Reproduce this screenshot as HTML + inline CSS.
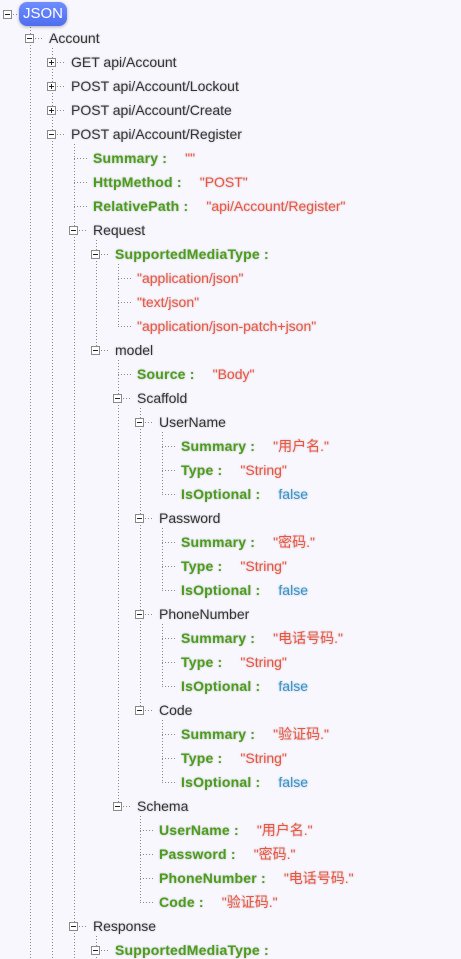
<!DOCTYPE html>
<html><head><meta charset="utf-8"><style>
body{margin:0;width:461px;height:959px;overflow:hidden;background:#f7f7fd;font-family:"Liberation Sans","Noto Sans CJK SC",sans-serif;font-size:14px;position:relative}
.r{position:absolute;height:18px;line-height:18px;white-space:nowrap;color:#333;text-shadow:0 0 2px rgba(0,0,0,.25)}
.k{color:#4a9e18;font-weight:bold;letter-spacing:0.2px}
.s{color:#f5503a;margin-left:18px}
.s0{color:#f5503a}
.f{color:#2b94d4;margin-left:18px}
.b{position:absolute;width:9px;height:9px;border:1px solid #8a8a8a;background:#fff;box-sizing:border-box}
.b:before{content:"";position:absolute;left:1px;right:1px;top:3px;height:1px;background:#222}
.p:after{content:"";position:absolute;top:1px;bottom:1px;left:3px;width:1px;background:#222}
.pill{position:absolute;left:19px;top:2px;width:48px;height:24px;border-radius:8px;background:linear-gradient(#6f8cff,#4e6ef0);color:#fff;text-align:center;line-height:24px;font-size:15px;box-shadow:0 1px 3px rgba(0,0,0,.3)}
</style></head><body>
<svg width="461" height="959" style="position:absolute;left:0;top:0" stroke="#888" stroke-width="1" stroke-dasharray="1,2" fill="none" shape-rendering="crispEdges">
<path d="M30.5 24V959M52.5 48V959M74.5 144V959M96.5 240V350M118.5 264V326M118.5 360V806M140.5 408V710M162.5 432V494M162.5 528V590M162.5 624V686M162.5 720V782M140.5 816V902M96.5 936V959"/>
<path d="M13 14.5H19M35 38.5H42M57 62.5H64M57 86.5H64M57 110.5H64M57 134.5H64
M74 158.5H88M74 182.5H88M74 206.5H88M79 230.5H86
M101 254.5H108M118 278.5H132M118 302.5H132M118 326.5H132M101 350.5H108
M118 374.5H132M123 398.5H130
M145 422.5H152M162 446.5H176M162 470.5H176M162 494.5H176
M145 518.5H152M162 542.5H176M162 566.5H176M162 590.5H176
M145 614.5H152M162 638.5H176M162 662.5H176M162 686.5H176
M145 710.5H152M162 734.5H176M162 758.5H176M162 782.5H176
M123 806.5H130M140 830.5H154M140 854.5H154M140 878.5H154M140 902.5H154
M79 926.5H86M101 950.5H108"/>
</svg>
<div class="b" style="left:3px;top:10px"></div><div class="pill">JSON</div>
<div class="b" style="left:25px;top:34px"></div><div class="r" style="left:49px;top:29px">Account</div>
<div class="b p" style="left:47px;top:58px"></div><div class="r" style="left:71px;top:53px">GET api/Account</div>
<div class="b p" style="left:47px;top:82px"></div><div class="r" style="left:71px;top:77px">POST api/Account/Lockout</div>
<div class="b p" style="left:47px;top:106px"></div><div class="r" style="left:71px;top:101px">POST api/Account/Create</div>
<div class="b" style="left:47px;top:130px"></div><div class="r" style="left:71px;top:125px">POST api/Account/Register</div>
<div class="r" style="left:93px;top:149px"><span class="k">Summary :</span><span class="s">""</span></div>
<div class="r" style="left:93px;top:173px"><span class="k">HttpMethod :</span><span class="s">"POST"</span></div>
<div class="r" style="left:93px;top:197px"><span class="k">RelativePath :</span><span class="s">"api/Account/Register"</span></div>
<div class="b" style="left:69px;top:226px"></div><div class="r" style="left:93px;top:221px">Request</div>
<div class="b" style="left:91px;top:250px"></div><div class="r" style="left:115px;top:245px"><span class="k">SupportedMediaType :</span></div>
<div class="r" style="left:137px;top:269px"><span class="s0">"application/json"</span></div>
<div class="r" style="left:137px;top:293px"><span class="s0">"text/json"</span></div>
<div class="r" style="left:137px;top:317px"><span class="s0">"application/json-patch+json"</span></div>
<div class="b" style="left:91px;top:346px"></div><div class="r" style="left:115px;top:341px">model</div>
<div class="r" style="left:137px;top:365px"><span class="k">Source :</span><span class="s">"Body"</span></div>
<div class="b" style="left:113px;top:394px"></div><div class="r" style="left:137px;top:389px">Scaffold</div>
<div class="b" style="left:135px;top:418px"></div><div class="r" style="left:159px;top:413px">UserName</div>
<div class="r" style="left:181px;top:437px"><span class="k">Summary :</span><span class="s">"用户名."</span></div>
<div class="r" style="left:181px;top:461px"><span class="k">Type :</span><span class="s">"String"</span></div>
<div class="r" style="left:181px;top:485px"><span class="k">IsOptional :</span><span class="f">false</span></div>
<div class="b" style="left:135px;top:514px"></div><div class="r" style="left:159px;top:509px">Password</div>
<div class="r" style="left:181px;top:533px"><span class="k">Summary :</span><span class="s">"密码."</span></div>
<div class="r" style="left:181px;top:557px"><span class="k">Type :</span><span class="s">"String"</span></div>
<div class="r" style="left:181px;top:581px"><span class="k">IsOptional :</span><span class="f">false</span></div>
<div class="b" style="left:135px;top:610px"></div><div class="r" style="left:159px;top:605px">PhoneNumber</div>
<div class="r" style="left:181px;top:629px"><span class="k">Summary :</span><span class="s">"电话号码."</span></div>
<div class="r" style="left:181px;top:653px"><span class="k">Type :</span><span class="s">"String"</span></div>
<div class="r" style="left:181px;top:677px"><span class="k">IsOptional :</span><span class="f">false</span></div>
<div class="b" style="left:135px;top:706px"></div><div class="r" style="left:159px;top:701px">Code</div>
<div class="r" style="left:181px;top:725px"><span class="k">Summary :</span><span class="s">"验证码."</span></div>
<div class="r" style="left:181px;top:749px"><span class="k">Type :</span><span class="s">"String"</span></div>
<div class="r" style="left:181px;top:773px"><span class="k">IsOptional :</span><span class="f">false</span></div>
<div class="b" style="left:113px;top:802px"></div><div class="r" style="left:137px;top:797px">Schema</div>
<div class="r" style="left:159px;top:821px"><span class="k">UserName :</span><span class="s">"用户名."</span></div>
<div class="r" style="left:159px;top:845px"><span class="k">Password :</span><span class="s">"密码."</span></div>
<div class="r" style="left:159px;top:869px"><span class="k">PhoneNumber :</span><span class="s">"电话号码."</span></div>
<div class="r" style="left:159px;top:893px"><span class="k">Code :</span><span class="s">"验证码."</span></div>
<div class="b" style="left:69px;top:922px"></div><div class="r" style="left:93px;top:917px">Response</div>
<div class="b" style="left:91px;top:946px"></div><div class="r" style="left:115px;top:941px"><span class="k">SupportedMediaType :</span></div>
</body></html>
